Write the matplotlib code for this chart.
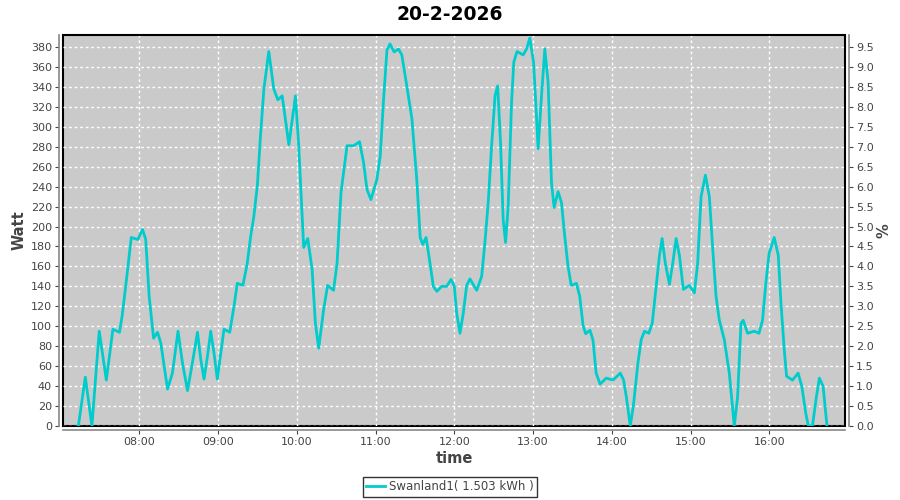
import matplotlib
matplotlib.use("Agg")
import matplotlib.pyplot as plt

# minutes after 07:00 and power in watt
minutes = [13.7, 19, 24, 29.6, 35, 40, 45, 47, 50, 54, 59, 62.6, 65, 67.6, 71, 74, 76.5,
           81.6, 85.3, 89.6, 93, 96.8, 100.5, 104.4, 106.9, 109.4, 112, 114.5, 117, 119.5,
           124.6, 129, 132.2, 134.7, 139, 142.3, 144.8, 147.3, 150, 152.4, 155, 158.7,
           162.5, 165.6, 168.9, 174, 179, 181.5, 185.3, 188.4, 191.7, 194.2, 196.7, 200.5,
           203.5, 208, 210.7, 213.7, 218.3, 223.3, 227.8, 230.9, 233.5, 236.5, 241, 243.6,
           246, 248.7, 251, 254.2, 257.5, 260, 263.8, 267.7, 271.4, 274, 276, 278.5, 281.5,
           284, 286.7, 290.4, 294.2, 297.5, 300, 301.8, 304.3, 306.8, 309.4, 311.9, 317,
           320.8, 323.3, 325.8, 328.4, 331, 333, 335.2, 337.2, 339, 341, 343.6, 345.3,
           347.8, 352.4, 355, 357.5, 360.3, 362.1, 363.8, 366.4, 368.9, 371.4, 374, 376,
           379, 381.6, 384.1, 386.6, 389, 393, 395.5, 398, 400, 403.3, 405.6, 408, 411,
           415.7, 420.8, 426.4, 428.9, 431, 434, 436.5, 439.8, 442.3, 444.8, 448.1, 450.7,
           453.2, 456.2, 458.2, 460.7, 463.8, 466.3, 468.9, 471.4, 474.4, 479, 482.8,
           485.3, 487.9, 491.2, 494.2, 496.7, 499.3, 501.8, 505.6, 509.4, 513.2, 515.7,
           518.3, 520, 523.3, 528.4, 532, 534.7, 537.2, 539.7, 543.6, 546.7, 548.7, 551.2,
           553, 557.5, 561.8, 564.6, 567.6, 569.6, 572.7, 575.7, 578, 580.8, 583.8]
watt = [0, 49, 0, 95, 46, 97, 94, 110, 143, 189, 187, 197, 187, 130, 88, 94, 83,
        37, 53, 95, 63, 35.5, 63, 94, 67, 47, 70, 95, 73, 47,
        97, 94, 120, 143, 141, 163, 189, 210, 241, 291, 338, 375.5,
        338, 327, 331, 282, 331, 281, 179, 188, 157, 103, 78, 117,
        141, 136, 163, 234, 281, 281, 285, 264, 237, 227, 247, 271,
        325, 377, 383, 375, 378, 372, 341, 308, 247, 189, 182, 189, 163,
        140, 135, 140, 140, 147, 140, 113, 93, 113, 141, 147.5, 136,
        150, 184, 224, 281, 331, 341, 284, 207, 184, 220, 325, 365,
        375.5, 372, 378, 389, 365, 322, 278, 331, 378, 345, 244, 219,
        235, 224, 190, 160, 141, 143, 130, 101, 92.5, 96, 86, 53, 42,
        48, 46, 53, 46, 29, 0, 22, 63, 86.5, 95, 93, 103,
        134, 171, 188, 163, 142, 163, 188, 171, 137, 141, 133.5,
        163, 230, 251.5, 230, 179, 130, 106, 86.5, 53, 0, 29,
        103, 106, 93, 95, 93, 106, 143, 173, 189, 171, 124, 77,
        50, 46, 53, 40, 13, 0, 0, 29, 48, 40, 0]

hour_ticks = [60, 120, 180, 240, 300, 360, 420, 480, 540]
hour_labels = ["08:00", "09:00", "10:00", "11:00", "12:00", "13:00", "14:00", "15:00", "16:00"]
watt_ticks = list(range(0, 381, 20))
pct_ticks = [w / 40 for w in watt_ticks]

fig = plt.figure(figsize=(9, 5), dpi=100)
ax = fig.add_axes([63 / 900, 74 / 500, 782 / 900, 391 / 500])
ax.set_facecolor("#CACACA")
ax.plot(minutes, watt, color="#00CCCC", lw=2, label="Swanland1( 1.503 kWh )", zorder=3)

ax.set_xlim(2, 597.5)
ax.set_ylim(0, 392)
ax.set_xticks(hour_ticks)
ax.set_xticklabels(hour_labels)
ax.set_yticks(watt_ticks)
ax.grid(True, color="white", ls=(0, (2, 2)), lw=1)

ax2 = ax.twinx()
ax2.set_ylim(0, 392 / 40)
ax2.set_yticks(pct_ticks)
ax2.set_yticklabels([f"{p:.1f}" for p in pct_ticks])

for a in (ax, ax2):
    for s in a.spines.values():
        s.set_color("black")
        s.set_linewidth(1.2)
    a.tick_params(colors="#444444", labelsize=8, length=3, width=0.8, pad=2)
for side in ("left", "bottom"):
    ax.spines[side].set_position(("outward", 3))
    ax.spines[side].set_color("#888888")
ax2.spines["right"].set_position(("outward", 3))
ax2.spines["right"].set_color("#888888")
ax2.spines["left"].set_visible(False)
ax2.spines["bottom"].set_visible(False)
ax.patch.set_edgecolor("black")
ax.patch.set_linewidth(1.5)

ax.set_ylabel("Watt", fontsize=10.5, color="#444444", fontweight="bold", labelpad=3)
ax.set_xlabel("time", fontsize=10.5, color="#444444", fontweight="bold", labelpad=3)
ax2.set_ylabel("%", fontsize=10.5, color="#444444", fontweight="bold", labelpad=2)
fig.suptitle("20-2-2026", y=0.99, fontsize=13.5, fontweight="bold")

leg = fig.legend(loc="lower center", bbox_to_anchor=(0.5, -0.005), fontsize=8.5, frameon=True,
                 fancybox=False, handlelength=1.6, handletextpad=0.3, borderpad=0.3)
leg.get_frame().set_edgecolor("black")
for t in leg.get_texts():
    t.set_color("#444444")

fig.savefig("out.png", dpi=100)
